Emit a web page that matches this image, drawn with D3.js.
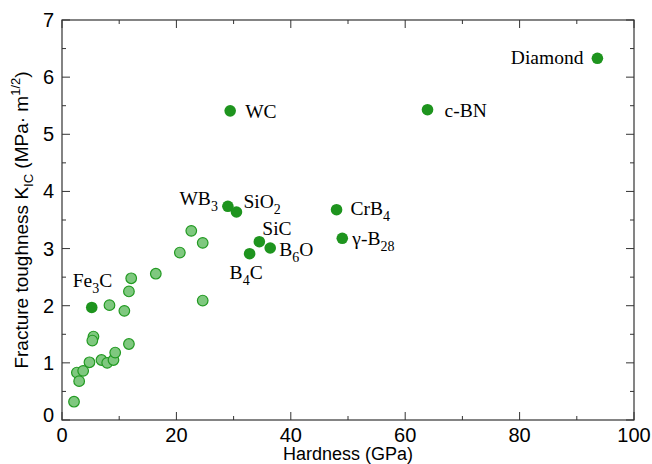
<!DOCTYPE html>
<html>
<head>
<meta charset="utf-8">
<script src="https://cdn.jsdelivr.net/npm/d3@7"></script>
<style>
  body { margin: 0; background: #fff; }
</style>
</head>
<body>
<div id="chart"></div>
<script>
// labelled materials (dark dots): name, hardness (GPa), toughness
var namedNames = ["Diamond", "c-BN", "WC", "WB3", "SiO2", "SiC", "B6O", "B4C", "CrB4", "γ-B28", "Fe3C"];
var namedHardness = [93.6, 63.9, 29.4, 29.0, 30.5, 34.5, 36.4, 32.8, 48.0, 49.0, 5.2];
var namedToughness = [6.33, 5.43, 5.41, 3.74, 3.64, 3.12, 3.01, 2.91, 3.68, 3.18, 1.97];

// other materials (light dots)
var otherHardness = [2.1, 2.6, 3.7, 3.0, 4.8, 5.5, 5.3, 6.9, 7.9, 9.0, 9.3, 11.7, 8.3, 10.9, 11.7, 12.1, 16.4, 20.6, 22.6, 24.6, 24.6];
var otherToughness = [0.32, 0.83, 0.86, 0.68, 1.01, 1.46, 1.39, 1.05, 1.0, 1.05, 1.18, 1.33, 2.01, 1.91, 2.25, 2.48, 2.56, 2.93, 3.31, 3.10, 2.09];

var xTicks = [0, 20, 40, 60, 80, 100];
var yTicks = [0, 1, 2, 3, 4, 5, 6, 7];

// label placement relative to the dot: [dx, dy, anchor]
var labelPos = {
  "Diamond": [-14, 6, "end"],
  "c-BN": [17, 7, "start"],
  "WC": [15, 7, "start"],
  "WB3": [-10, -1, "end"],
  "SiO2": [7, -4, "start"],
  "SiC": [3, -7, "start"],
  "B6O": [9, 8, "start"],
  "B4C": [-20, 25, "start"],
  "CrB4": [14, 5, "start"],
  "γ-B28": [10, 7, "start"],
  "Fe3C": [-19, -20, "start"]
};

var margin = { top: 20, right: 18, bottom: 44, left: 62 },
    width = 652 - margin.left - margin.right,
    height = 464 - margin.top - margin.bottom;

var svg = d3.select("#chart")
    .append("svg")
    .attr("width", 652)
    .attr("height", 464)
    .append("g")
    .attr("transform", "translate(" + margin.left + "," + margin.top + ")");

var x = d3.scaleLinear().domain([0, 100]).range([0, width]);
var y = d3.scaleLinear().domain([0, 7]).range([height, 0]);

var axisColor = "#333";

// frame
svg.append("rect")
    .attr("width", width)
    .attr("height", height)
    .attr("fill", "none")
    .attr("stroke", axisColor)
    .attr("stroke-width", 1.2);

// ticks pointing inward on all four sides
function drawTicks(vals, len) {
  vals.forEach(function (v) {
    svg.append("line").attr("x1", x(v)).attr("x2", x(v)).attr("y1", height).attr("y2", height - len).attr("stroke", axisColor);
    svg.append("line").attr("x1", x(v)).attr("x2", x(v)).attr("y1", 0).attr("y2", len).attr("stroke", axisColor);
  });
}
function drawYTicks(vals, len) {
  vals.forEach(function (v) {
    svg.append("line").attr("y1", y(v)).attr("y2", y(v)).attr("x1", 0).attr("x2", len).attr("stroke", axisColor);
    svg.append("line").attr("y1", y(v)).attr("y2", y(v)).attr("x1", width).attr("x2", width - len).attr("stroke", axisColor);
  });
}
drawTicks(d3.range(0, 101, 20), 8);
drawTicks(d3.range(10, 100, 20), 4);
drawYTicks(d3.range(0, 7.01, 1), 8);
drawYTicks(d3.range(0.5, 7, 1), 4);

// tick labels
svg.selectAll(".xlab")
    .data(xTicks)
    .enter()
    .append("text")
    .attr("x", function (d) { return x(d); })
    .attr("y", height + 22)
    .attr("text-anchor", "middle")
    .style("font-family", "'Liberation Sans', Arial, sans-serif")
    .style("font-size", "20px")
    .text(function (d) { return d; });

svg.selectAll(".ylab")
    .data(yTicks)
    .enter()
    .append("text")
    .attr("x", -8)
    .attr("y", function (d) { return y(d) + (d === 0 ? 2 : 7); })
    .attr("text-anchor", "end")
    .style("font-family", "'Liberation Sans', Arial, sans-serif")
    .style("font-size", "20px")
    .text(function (d) { return d; });

// axis titles
svg.append("text")
    .attr("x", width / 2)
    .attr("y", height + 40)
    .attr("text-anchor", "middle")
    .style("font-family", "'Liberation Sans', Arial, sans-serif")
    .style("font-size", "18px")
    .text("Hardness (GPa)");

var yt = svg.append("text")
    .attr("transform", "translate(-34," + (height / 2) + ") rotate(-90)")
    .attr("text-anchor", "middle")
    .style("font-family", "'Liberation Sans', Arial, sans-serif")
    .style("font-size", "19px");
yt.append("tspan").text("Fracture toughness K");
yt.append("tspan").attr("dy", 5).style("font-size", "13px").text("IC");
yt.append("tspan").attr("dy", -5).text(" (MPa· m");
yt.append("tspan").attr("dy", -8).style("font-size", "13px").text("1/2");
yt.append("tspan").attr("dy", 8).text(")");

// light dots
var other = otherHardness.map(function (h, i) { return { h: h, k: otherToughness[i] }; });
svg.selectAll(".other")
    .data(other)
    .enter()
    .append("circle")
    .attr("cx", function (d) { return x(d.h); })
    .attr("cy", function (d) { return y(d.k); })
    .attr("r", 5.3)
    .attr("fill", "#7fc87f")
    .attr("stroke", "#229a22")
    .attr("stroke-width", 1.2);

// dark dots with labels
var named = namedNames.map(function (n, i) { return { name: n, h: namedHardness[i], k: namedToughness[i] }; });
svg.selectAll(".named")
    .data(named)
    .enter()
    .append("circle")
    .attr("cx", function (d) { return x(d.h); })
    .attr("cy", function (d) { return y(d.k); })
    .attr("r", 5.8)
    .attr("fill", "#1e941e");

named.forEach(function (d) {
  var p = labelPos[d.name];
  var t = svg.append("text")
      .attr("x", x(d.h) + p[0])
      .attr("y", y(d.k) + p[1])
      .attr("text-anchor", p[2])
      .style("font-family", "'Liberation Serif', 'Times New Roman', serif")
      .style("font-size", "19.5px");
  // split trailing digits into a subscript
  var m = d.name.match(/^(.*?)(\d+)(.*)$/);
  if (m) {
    t.append("tspan").text(m[1]);
    t.append("tspan").attr("dy", 6).style("font-size", "14px").text(m[2]);
    if (m[3]) t.append("tspan").attr("dy", -6).text(m[3]);
  } else {
    t.text(d.name);
  }
});
</script>
</body>
</html>
